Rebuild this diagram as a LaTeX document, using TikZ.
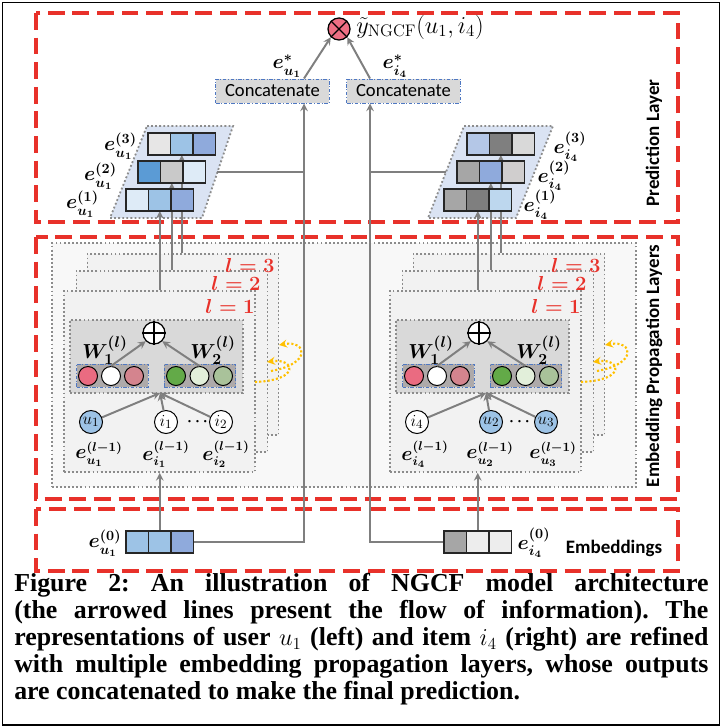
\documentclass[tikz,border=0pt]{standalone}
\usepackage{fontspec}
\usepackage{amsmath}
\usetikzlibrary{arrows,positioning,calc}

\newfontfamily\calibri{Carlito}
\newfontfamily\capfont{Liberation Serif}

\definecolor{redline}{HTML}{E8312A}
\definecolor{dotgray}{HTML}{8C8C8C}
\definecolor{layerfill}{HTML}{F2F2F2}
\definecolor{outerfill}{HTML}{F8F8F8}
\definecolor{innergray}{HTML}{D9D9D9}
\definecolor{grpgray}{HTML}{AEAAAA}
\definecolor{dashblue}{HTML}{4F78C2}
\definecolor{conngray}{HTML}{7F7F7F}
\definecolor{cellline}{HTML}{262626}
\definecolor{stackfill}{HTML}{DAE3F3}
\definecolor{hopyellow}{HTML}{FFC000}
\definecolor{otimesred}{HTML}{EE6F84}
\definecolor{pinkA}{HTML}{EA6B81}
\definecolor{pinkB}{HTML}{D4848E}
\definecolor{greenA}{HTML}{63AA48}
\definecolor{greenB}{HTML}{E2EFDA}
\definecolor{greenC}{HTML}{A9C29A}
\definecolor{userblue}{HTML}{9DC3E6}
\definecolor{cGrayA}{HTML}{E7E6E6}
\definecolor{cGrayB}{HTML}{C9C9C9}
\definecolor{cGrayC}{HTML}{A6A6A6}
\definecolor{cGrayD}{HTML}{7F7F7F}
\definecolor{cGrayE}{HTML}{D9D9D9}
\definecolor{cGrayF}{HTML}{D0CECE}
\definecolor{cGrayG}{HTML}{EDEDED}
\definecolor{cBlueA}{HTML}{5B9BD5}
\definecolor{cBlueB}{HTML}{9DC3E6}
\definecolor{cBlueC}{HTML}{8FAADC}
\definecolor{cBlueD}{HTML}{DEEBF7}
\definecolor{cBlueE}{HTML}{B4C7E7}
\definecolor{cBlueF}{HTML}{BDD7EE}

\pgfdeclarelayer{front}
\pgfsetlayers{main,front}

% three cells of one embedding vector
\newcommand{\embrow}[6]{%
  \node[cell, fill=#4] (#1a) at (#2,#3) {};
  \node[cell, fill=#5, right=0pt of #1a] (#1b) {};
  \node[cell, fill=#6, right=0pt of #1b] (#1c) {};}

\begin{document}
\begin{tikzpicture}[
    x=0.025cm, y=-0.025cm,
    frame/.style={draw=redline, line width=2.2pt, dash pattern=on 12pt off 5.5pt},
    dotbox/.style={draw=dotgray, line width=1.3pt, dash pattern=on 1.3pt off 1.6pt},
    layerbox/.style={dotbox, fill=layerfill, minimum width=4.775cm, minimum height=4.525cm, inner sep=0pt},
    grpbox/.style={draw=dashblue, line width=0.7pt, dash pattern=on 2.5pt off 1.2pt on 0.6pt off 1.2pt, fill=grpgray, minimum width=1.79cm, minimum height=0.575cm, inner sep=0pt},
    catbox/.style={draw=dashblue, line width=0.7pt, dash pattern=on 2.5pt off 1.2pt on 0.6pt off 1.2pt, fill=innergray, minimum width=2.825cm, minimum height=0.6cm, inner sep=0pt, font=\calibri\fontsize{13.2pt}{14pt}\selectfont},
    cell/.style={draw=cellline, line width=0.9pt, minimum width=0.5625cm, minimum height=0.55cm, inner sep=0pt, outer sep=0pt},
    ball/.style={circle, draw=black, line width=0.7pt, minimum size=0.475cm, inner sep=0pt},
    ent/.style={circle, draw=black, line width=0.7pt, minimum size=0.575cm, inner sep=0pt, font=\fontsize{13pt}{13pt}\selectfont},
    op/.style={circle, draw=black, line width=0.9pt, fill=white, minimum size=0.55cm, inner sep=0pt},
    elab/.style={inner sep=0pt, font=\fontsize{14pt}{14pt}\selectfont\boldmath},
    hlab/.style={inner sep=0pt, font=\fontsize{13.5pt}{13.5pt}\selectfont\boldmath},
    wlab/.style={inner sep=0pt, font=\fontsize{15pt}{15pt}\selectfont\boldmath},
    llab/.style={inner sep=0pt, text=redline, font=\fontsize{15pt}{15pt}\selectfont\boldmath},
    side/.style={inner sep=0pt, font=\calibri\bfseries\fontsize{13.5pt}{14pt}\selectfont},
    conn/.style={draw=conngray, line width=1.4pt},
    arrow/.style={conn, ->, >=stealth},
    hop/.style={draw=hopyellow, line width=1.5pt, dash pattern=on 1.5pt off 1.5pt, ->, >=stealth}
]
\useasboundingbox (0,0) rectangle (722,728);
\draw[line width=0.9pt] (2.5,2.5) rectangle (719.5,725);

% Frames
\draw[frame] (36,13) rectangle (678,222);
\draw[frame] (36,237) rectangle (678,499);
\draw[frame] (36,509) rectangle (678,571);

% Prediction layer
\node[op, fill=otimesred] (pred) at (339,29) {};
\draw[line width=0.9pt] (pred.north west) -- (pred.south east) (pred.north east) -- (pred.south west);
\node[anchor=west, inner sep=0pt, font=\fontsize{17pt}{17pt}\selectfont] (yhat) at (356,27) {$\tilde{y}_{\mathrm{NGCF}}(u_1, i_4)$};
\node[catbox] (catL) at (272.5,91) {Concatenate};
\node[catbox] (catR) at (403.5,91) {Concatenate};
\node[elab] (estL) at (287,66) {$e^{*}_{u_1}$};
\node[elab] (estR) at (395,66) {$e^{*}_{i_4}$};
\node[side, rotate=90] (predtxt) at (654,143) {Prediction Layer};

\draw[dotbox, fill=stackfill] (147,126) -- (233,126) -- (202,218) -- (110,218) -- cycle;
\draw[dotbox, fill=stackfill] (464,126) -- (553,126) -- (516,218) -- (428,218) -- cycle;
\node[elab] (e3L) at (120.5,146) {$e_{u_1}^{(3)}$};
\node[elab] (e2L) at (100.5,176) {$e_{u_1}^{(2)}$};
\node[elab] (e1L) at (82.5,204) {$e_{u_1}^{(1)}$};
\node[elab] (e3R) at (570,147) {$e_{i_4}^{(3)}$};
\node[elab] (e2R) at (554,176) {$e_{i_4}^{(2)}$};
\node[elab] (e1R) at (540,205) {$e_{i_4}^{(1)}$};

% Embedding propagation layers
\node[dotbox, fill=outerfill, minimum width=14.6cm, minimum height=6.1cm, inner sep=0pt] (prop) at (344,365) {};
\node[side, rotate=90] (proptxt) at (654,366) {Embedding Propagation Layers};

% left: user u1
\node[layerbox] (L3) at (183,344.5) {};
\node[layerbox] (L2) at (172,361.5) {};
\node[layerbox] (L1) at (159.5,381.5) {};
\node[llab] (l3L) at (250,265) {$l=3$};
\node[llab] (l2L) at (236,283) {$l=2$};
\node[llab] (l1L) at (230,306) {$l=1$};
\node[dotbox, fill=innergray, minimum width=4.325cm, minimum height=1.825cm, inner sep=0pt] (inL) at (156.5,356.5) {};
\node[op] (sumL) at (154,333) {};
\draw[line width=0.9pt] (sumL.north) -- (sumL.south) (sumL.west) -- (sumL.east);
\node[wlab] (w1L) at (105,350) {$W_1^{(l)}$};
\node[wlab] (w2L) at (213,350) {$W_2^{(l)}$};
\node[grpbox] (g1L) at (112.5,375.5) {};
\node[grpbox] (g2L) at (200,375.5) {};
\node[ball, fill=pinkA] (a1L) at (88,376) {};
\node[ball, fill=white] (a2L) at (111,376) {};
\node[ball, fill=pinkB] (a3L) at (134,376) {};
\node[ball, fill=greenA] (b1L) at (176,376) {};
\node[ball, fill=greenB] (b2L) at (199.5,376) {};
\node[ball, fill=greenC] (b3L) at (223,376) {};
\node[ent, fill=userblue] (uL) at (91,422) {$u_1$};
\node[ent, fill=white] (iaL) at (166,422) {$i_1$};
\node[inner sep=0pt, font=\fontsize{11pt}{11pt}\selectfont\boldmath] (dotsL) at (199,422) {$\cdots$};
\node[ent, fill=white] (ibL) at (221,422) {$i_2$};
\node[hlab] (euL) at (99,454) {$e_{u_1}^{(l-1)}$};
\node[hlab] (eiaL) at (166,454) {$e_{i_1}^{(l-1)}$};
\node[hlab] (eibL) at (226,454) {$e_{i_2}^{(l-1)}$};
\coordinate (mL) at (160,393);
\coordinate (hA1) at (255,382);
\coordinate (hA2) at (267,362);
\coordinate (hB1) at (271,371);
\coordinate (hB2) at (279,345);

% right: item i4
\node[layerbox] (R3) at (509,344.5) {};
\node[layerbox] (R2) at (498,361.5) {};
\node[layerbox] (R1) at (485.5,381.5) {};
\node[llab] (l3R) at (576,265) {$l=3$};
\node[llab] (l2R) at (562,283) {$l=2$};
\node[llab] (l1R) at (556,306) {$l=1$};
\node[dotbox, fill=innergray, minimum width=4.325cm, minimum height=1.825cm, inner sep=0pt] (inR) at (482.5,356.5) {};
\node[op] (sumR) at (479,333) {};
\draw[line width=0.9pt] (sumR.north) -- (sumR.south) (sumR.west) -- (sumR.east);
\node[wlab] (w1R) at (431,350) {$W_1^{(l)}$};
\node[wlab] (w2R) at (539,350) {$W_2^{(l)}$};
\node[grpbox] (g1R) at (438.5,375.5) {};
\node[grpbox] (g2R) at (526,375.5) {};
\node[ball, fill=pinkA] (a1R) at (414,376) {};
\node[ball, fill=white] (a2R) at (437,376) {};
\node[ball, fill=pinkB] (a3R) at (460,376) {};
\node[ball, fill=greenA] (b1R) at (502,376) {};
\node[ball, fill=greenB] (b2R) at (525.5,376) {};
\node[ball, fill=greenC] (b3R) at (549,376) {};
\node[ent, fill=white] (iR) at (417,422) {$i_4$};
\node[ent, fill=userblue] (uaR) at (491,422) {$u_2$};
\node[inner sep=0pt, font=\fontsize{11pt}{11pt}\selectfont\boldmath] (dotsR) at (521,422) {$\cdots$};
\node[ent, fill=userblue] (ubR) at (546,422) {$u_3$};
\node[hlab] (eiR) at (425,454) {$e_{i_4}^{(l-1)}$};
\node[hlab] (euaR) at (490,454) {$e_{u_2}^{(l-1)}$};
\node[hlab] (eubR) at (553,454) {$e_{u_3}^{(l-1)}$};
\coordinate (mR) at (486,393);
\coordinate (hC1) at (581,382);
\coordinate (hC2) at (593,362);
\coordinate (hD1) at (597,371);
\coordinate (hD2) at (605,345);

% Embeddings
\node[elab] (e0L) at (105,543) {$e_{u_1}^{(0)}$};
\node[elab] (e0R) at (534,543) {$e_{i_4}^{(0)}$};
\node[side] (embtxt) at (614,548) {Embeddings};

% vectors (on top of the arrows)
\begin{pgfonlayer}{front}
\embrow{pL3}{159.25}{144}{cGrayA}{cBlueB}{cBlueC}
\embrow{pL2}{149.25}{172}{cBlueA}{cGrayB}{cBlueD}
\embrow{pL1}{137.25}{200}{cBlueD}{cBlueB}{cBlueC}
\embrow{pR3}{478.25}{144}{cBlueE}{cGrayD}{cGrayE}
\embrow{pR2}{468.25}{172}{cGrayC}{cBlueC}{cGrayF}
\embrow{pR1}{455.25}{200}{cGrayC}{cGrayD}{cBlueF}
\embrow{eU}{137.25}{542}{cBlueB}{cBlueB}{cBlueC}
\embrow{eI}{455.25}{542}{cGrayC}{cGrayG}{cGrayG}
\end{pgfonlayer}

% Arrows
\draw[arrow] (uL) -- (mL);
\draw[arrow] (iaL) -- (mL);
\draw[arrow] (ibL) -- (mL);
\draw[arrow] (a2L.north) -- (sumL.south west);
\draw[arrow] (b2L.north) -- (sumL.south east);
\draw[arrow] (iR) -- (mR);
\draw[arrow] (uaR) -- (mR);
\draw[arrow] (ubR) -- (mR);
\draw[arrow] (a2R.north) -- (sumR.south west);
\draw[arrow] (b2R.north) -- (sumR.south east);
\draw[hop] (hA1) .. controls (302,380) and (294,358) .. (hA2);
\draw[hop] (hB1) .. controls (312,364) and (307,340) .. (hB2);
\draw[hop] (hC1) .. controls (628,380) and (620,358) .. (hC2);
\draw[hop] (hD1) .. controls (638,364) and (633,340) .. (hD2);

\draw[arrow] (eUb.north) -- (eUb.north |- L1.south);
\draw[arrow] (eIb.north) -- (eIb.north |- R1.south);
\draw[arrow] (L1.north -| pL1b) -- (pL1b.south);
\draw[arrow] (L2.north -| pL2b) -- (pL2b.south);
\draw[arrow] (L3.north -| pL3b) -- (pL3b.south);
\draw[arrow] (R1.north -| pR1b) -- (pR1b.south);
\draw[arrow] (R2.north -| pR2b) -- (pR2b.south);
\draw[arrow] (R3.north -| pR3b) -- (pR3b.south);

\coordinate (vL) at (304,172);
\coordinate (vR) at (370,172);
\coordinate (stkL) at (217,172);
\coordinate (stkR) at (446,172);
\draw[arrow] (eUc.east) -| (vL |- catL.south);
\draw[conn] (stkL) -- (vL);
\draw[arrow] (eIa.west) -| (vR |- catR.south);
\draw[conn] (stkR) -- (vR);
\draw[arrow] (vL |- catL.north) -- (pred.south west);
\draw[arrow] (vR |- catR.north) -- (pred.south east);

% Caption
\node[anchor=north west, inner sep=0pt, text width=17.35cm, align=justify,
      font=\capfont\bfseries\fontsize{18.4pt}{19.2pt}\selectfont\frenchspacing] (cap) at (14,573)
  {Figure 2: An illustration of NGCF model architecture\linebreak
   (the arrowed lines present the flow of information). The\linebreak
   representations of user $u_1$ (left) and item $i_4$ (right) are refined\linebreak
   with multiple embedding propagation layers, whose outputs\linebreak
   are concatenated to make the final prediction.};
\end{tikzpicture}
\end{document}
